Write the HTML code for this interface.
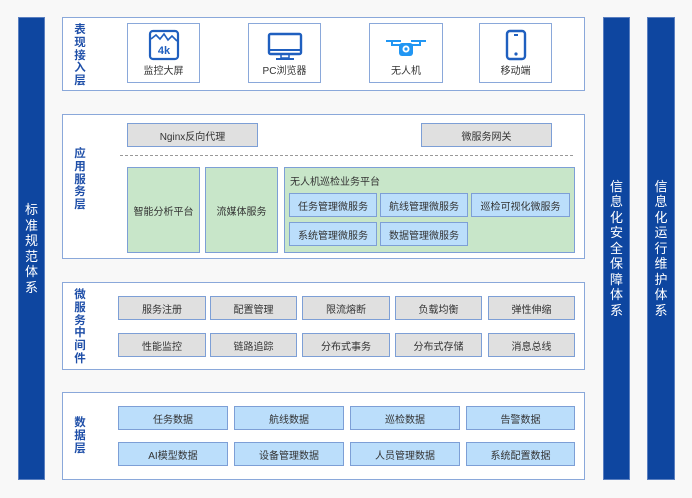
<!DOCTYPE html>
<html><head><meta charset="utf-8"><style>
*{margin:0;padding:0;box-sizing:border-box}
body{width:692px;height:498px;background:#f8f8f8;position:relative;overflow:hidden;font-family:"Liberation Sans","Noto Sans CJK SC",sans-serif}
.a{position:absolute}
.bar{background:#0e46a0;border:1px solid #5a7fc0;color:#fff;font-size:13px;line-height:15.5px;text-align:center;display:flex;align-items:center;justify-content:center}
.bar span{width:14px;word-break:break-all}
.layer{background:#fff;border:1.5px solid #8aa8da}
.lbl{color:#1f4fa8;font-weight:bold;font-size:11.5px;line-height:12.8px;width:14px;text-align:center;word-break:break-all}
.b{border:1.5px solid #7d9fd6;display:flex;align-items:center;justify-content:center;font-size:10px;color:#333}
.g{background:#e0e0e0}.gr{background:#c8e6c9}.lb{background:#bbdefb}
.card{background:#fff;border:1.5px solid #8aa8da;font-size:10px;color:#333;text-align:center}
.card svg{display:block;margin:5px auto 0}
.card div{position:absolute;left:0;right:0;bottom:5px}
</style></head><body>
<div class="a bar" style="left:18px;top:17px;width:27px;height:463px"><span>标准规范体系</span></div>
<div class="a bar" style="left:603px;top:17px;width:27px;height:463px"><span>信息化安全保障体系</span></div>
<div class="a bar" style="left:647px;top:17px;width:28px;height:463px"><span>信息化运行维护体系</span></div>

<div class="a layer" style="left:62px;top:17px;width:523px;height:74px"></div>
<div class="a lbl" style="left:73px;top:24px">表现接入层</div>
<div class="a card" style="left:127px;top:23px;width:73px;height:60px"><svg width="32" height="32" viewBox="0 0 32 32"><rect x="2" y="2" width="28" height="28" rx="3" fill="none" stroke="#1f5fbf" stroke-width="2.2"/><polyline points="3,10 8,6 12,10 16,5 20,11 24,7 29,12" fill="none" stroke="#1f5fbf" stroke-width="1.6"/><text x="16" y="25" font-size="11" font-weight="bold" fill="#1f5fbf" text-anchor="middle" font-family="Liberation Sans">4k</text></svg><div>监控大屏</div></div>
<div class="a card" style="left:248px;top:23px;width:73px;height:60px"><svg width="38" height="32" viewBox="0 0 38 32"><rect x="3" y="5" width="32" height="20" rx="1.5" fill="none" stroke="#1f5fbf" stroke-width="2.4"/><line x1="3" y1="21" x2="35" y2="21" stroke="#1f5fbf" stroke-width="2"/><rect x="15" y="25" width="8" height="4" fill="none" stroke="#1f5fbf" stroke-width="1.5"/><line x1="10" y1="30" x2="28" y2="30" stroke="#1f5fbf" stroke-width="2"/></svg><div>PC浏览器</div></div>
<div class="a card" style="left:369px;top:23px;width:74px;height:60px"><svg width="42" height="32" viewBox="0 0 42 32"><line x1="1" y1="12" x2="16" y2="12" stroke="#2196f3" stroke-width="2"/><line x1="26" y1="12" x2="41" y2="12" stroke="#2196f3" stroke-width="2"/><line x1="7" y1="12" x2="7" y2="17" stroke="#2196f3" stroke-width="2"/><line x1="35" y1="12" x2="35" y2="17" stroke="#2196f3" stroke-width="2"/><path d="M7 16 H35" stroke="#2196f3" stroke-width="2"/><rect x="14" y="14" width="14" height="13" rx="3" fill="#2196f3"/><circle cx="21" cy="20" r="3.5" fill="#fff"/><circle cx="21" cy="20" r="1.6" fill="#2196f3"/></svg><div>无人机</div></div>
<div class="a card" style="left:479px;top:23px;width:73px;height:60px"><svg width="24" height="32" viewBox="0 0 24 32"><rect x="3" y="2" width="18" height="28" rx="3" fill="none" stroke="#1f5fbf" stroke-width="2.4"/><line x1="10" y1="6" x2="14" y2="6" stroke="#1f5fbf" stroke-width="2"/><circle cx="12" cy="25" r="1.6" fill="#1f5fbf"/></svg><div>移动端</div></div>

<div class="a layer" style="left:62px;top:114px;width:523px;height:145px"></div>
<div class="a lbl" style="left:73px;top:148px">应用服务层</div>
<div class="a b g" style="left:127px;top:123px;width:131px;height:24px">Nginx反向代理</div>
<div class="a b g" style="left:421px;top:123px;width:131px;height:24px">微服务网关</div>
<div class="a" style="left:120px;top:155px;width:453px;border-top:1.5px dashed #999"></div>
<div class="a b gr" style="left:127px;top:167px;width:73px;height:86px">智能分析平台</div>
<div class="a b gr" style="left:205px;top:167px;width:73px;height:86px">流媒体服务</div>
<div class="a b gr" style="left:284px;top:167px;width:291px;height:86px"></div>
<div class="a" style="left:290px;top:173px;font-size:10px;color:#333">无人机巡检业务平台</div>
<div class="a b lb" style="left:289px;top:193px;width:88px;height:24px">任务管理微服务</div>
<div class="a b lb" style="left:380px;top:193px;width:88px;height:24px">航线管理微服务</div>
<div class="a b lb" style="left:471px;top:193px;width:99px;height:24px">巡检可视化微服务</div>
<div class="a b lb" style="left:289px;top:222px;width:88px;height:24px">系统管理微服务</div>
<div class="a b lb" style="left:380px;top:222px;width:88px;height:24px">数据管理微服务</div>

<div class="a layer" style="left:62px;top:282px;width:523px;height:88px"></div>
<div class="a lbl" style="left:73px;top:289px">微服务中间件</div>
<div class="a b g" style="left:118px;top:296px;width:88px;height:24px">服务注册</div>
<div class="a b g" style="left:210px;top:296px;width:87px;height:24px">配置管理</div>
<div class="a b g" style="left:302px;top:296px;width:88px;height:24px">限流熔断</div>
<div class="a b g" style="left:395px;top:296px;width:87px;height:24px">负载均衡</div>
<div class="a b g" style="left:488px;top:296px;width:87px;height:24px">弹性伸缩</div>
<div class="a b g" style="left:118px;top:333px;width:88px;height:24px">性能监控</div>
<div class="a b g" style="left:210px;top:333px;width:87px;height:24px">链路追踪</div>
<div class="a b g" style="left:302px;top:333px;width:88px;height:24px">分布式事务</div>
<div class="a b g" style="left:395px;top:333px;width:87px;height:24px">分布式存储</div>
<div class="a b g" style="left:488px;top:333px;width:87px;height:24px">消息总线</div>

<div class="a layer" style="left:62px;top:392px;width:523px;height:88px"></div>
<div class="a lbl" style="left:73px;top:417px">数据层</div>
<div class="a b lb" style="left:118px;top:406px;width:110px;height:24px">任务数据</div>
<div class="a b lb" style="left:234px;top:406px;width:110px;height:24px">航线数据</div>
<div class="a b lb" style="left:350px;top:406px;width:110px;height:24px">巡检数据</div>
<div class="a b lb" style="left:466px;top:406px;width:109px;height:24px">告警数据</div>
<div class="a b lb" style="left:118px;top:442px;width:110px;height:24px">AI模型数据</div>
<div class="a b lb" style="left:234px;top:442px;width:110px;height:24px">设备管理数据</div>
<div class="a b lb" style="left:350px;top:442px;width:110px;height:24px">人员管理数据</div>
<div class="a b lb" style="left:466px;top:442px;width:109px;height:24px">系统配置数据</div>
</body></html>
